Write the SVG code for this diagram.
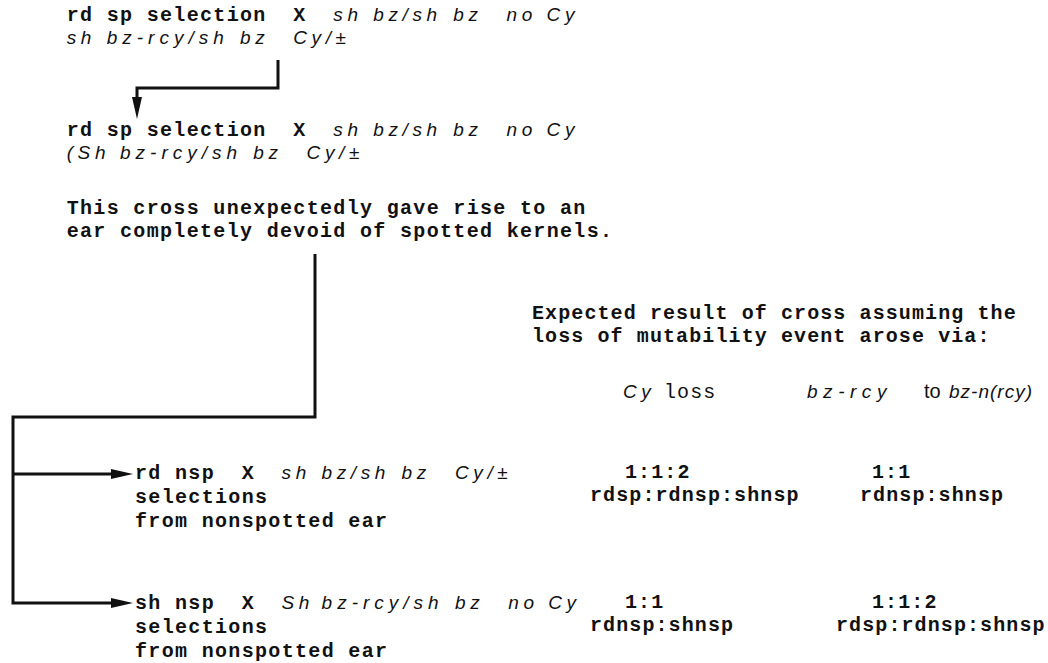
<svg xmlns="http://www.w3.org/2000/svg" width="1048" height="663" viewBox="0 0 1048 663">
<style>
  text { font-family: "Liberation Mono", "DejaVu Sans Mono", monospace; font-size: 20px; font-weight: bold; fill: #111; letter-spacing: 1.33px; }
  .i { font-family: "Liberation Sans", Arial, sans-serif; font-style: italic; font-weight: normal; letter-spacing: 4.6px; font-size: 19px; }
  .w { letter-spacing: 5px; }
  .r { letter-spacing: 1.1px; }
  .n { font-weight: normal; }
  .s { font-family: "Liberation Sans", Arial, sans-serif; font-weight: normal; letter-spacing: 0; }
  .conn { fill: none; stroke: #111; stroke-width: 3; stroke-linejoin: miter; }
</style>
<defs>
  <marker id="ah" viewBox="0 0 22 10" refX="12" refY="5" markerWidth="22" markerHeight="10" markerUnits="userSpaceOnUse" orient="auto">
    <path d="M0,0 L22,5 L0,10 z" fill="#111"/>
  </marker>
</defs>
<g id="connectors">
  <path class="conn" d="M278,60 V88 H137 V109" marker-end="url(#ah)"/>
  <path class="conn" d="M315,254 V417 H13 V603 H123" marker-end="url(#ah)"/>
  <path class="conn" d="M13,474 H123" marker-end="url(#ah)"/>
</g>
<g id="cross1">
  <text x="66.7" y="21" xml:space="preserve">rd sp selection  X</text>
  <text y="21" class="i"><tspan x="333.3">sh</tspan><tspan x="373.3">bz/sh</tspan><tspan x="453.3">bz</tspan><tspan x="506.6">no</tspan><tspan x="546.6">Cy</tspan></text>
  <text y="44" class="i"><tspan x="66.7">sh</tspan><tspan x="106.7" class="w">bz-rcy/sh</tspan><tspan x="240">bz</tspan><tspan x="293.3">Cy/±</tspan></text>
</g>
<g id="cross2">
  <text x="66.7" y="136" xml:space="preserve">rd sp selection  X</text>
  <text y="136" class="i"><tspan x="333.3">sh</tspan><tspan x="373.3">bz/sh</tspan><tspan x="453.3">bz</tspan><tspan x="506.6">no</tspan><tspan x="546.6">Cy</tspan></text>
  <text y="159" class="i"><tspan x="66.7">(Sh</tspan><tspan x="120" class="w">bz-rcy/sh</tspan><tspan x="253.3">bz</tspan><tspan x="306.6">Cy/±</tspan></text>
  <text x="66.7" y="214" xml:space="preserve">This cross unexpectedly gave rise to an</text>
  <text x="66.7" y="237" xml:space="preserve">ear completely devoid of spotted kernels.</text>
</g>
<g id="expected-header">
  <text x="532" y="319" class="r" xml:space="preserve">Expected result of cross assuming the</text>
  <text x="532" y="342" class="r" xml:space="preserve">loss of mutability event arose via:</text>
  <text x="623" y="398" class="i">Cy</text>
  <text x="664" y="398" class="n r">loss</text>
  <text x="807" y="398" class="i" textLength="84" lengthAdjust="spacing">bz-rcy</text>
  <text x="924" y="398" class="s">to</text>
  <text x="949" y="398" class="i" style="letter-spacing:1px" textLength="84" lengthAdjust="spacingAndGlyphs">bz-n(rcy)</text>
</g>
<g id="row1">
  <text x="135" y="479" xml:space="preserve">rd nsp  X</text>
  <text y="479" class="i"><tspan x="281.6">sh</tspan><tspan x="321.6">bz/sh</tspan><tspan x="401.6">bz</tspan><tspan x="455">Cy/±</tspan></text>
  <text x="135" y="503">selections</text>
  <text x="135" y="527">from nonspotted ear</text>
  <text x="625" y="478" class="r">1:1:2</text>
  <text x="590" y="501" class="r">rdsp:rdnsp:shnsp</text>
  <text x="872" y="478" class="r">1:1</text>
  <text x="860" y="501" class="r">rdnsp:shnsp</text>
</g>
<g id="row2">
  <text x="135" y="609" xml:space="preserve">sh nsp  X</text>
  <text y="609" class="i"><tspan x="281.6">Sh</tspan><tspan x="321.6" class="w">bz-rcy/sh</tspan><tspan x="455">bz</tspan><tspan x="508.3">no</tspan><tspan x="548.3">Cy</tspan></text>
  <text x="135" y="633">selections</text>
  <text x="135" y="657">from nonspotted ear</text>
  <text x="625" y="608" class="r">1:1</text>
  <text x="590" y="631" class="r">rdnsp:shnsp</text>
  <text x="872" y="608" class="r">1:1:2</text>
  <text x="836" y="631" class="r">rdsp:rdnsp:shnsp</text>
</g>
</svg>
